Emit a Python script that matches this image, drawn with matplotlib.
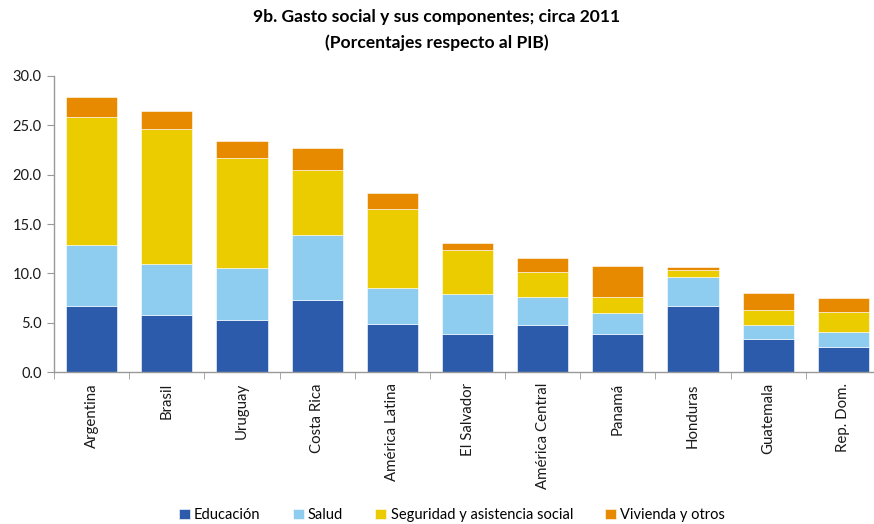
import matplotlib
matplotlib.use("Agg")
import matplotlib.pyplot as plt
import numpy as np

categories = ["Argentina", "Brasil", "Uruguay", "Costa Rica", "América Latina",
              "El Salvador", "América Central", "Panamá", "Honduras", "Guatemala", "Rep. Dom."]
educacion = [6.66, 5.78, 5.27, 7.30, 4.83, 3.85, 4.73, 3.85, 6.66, 3.34, 2.50]
salud = [6.21, 5.20, 5.27, 6.55, 3.65, 4.09, 2.91, 2.16, 2.97, 1.39, 1.59]
seguridad = [12.94, 13.68, 11.12, 6.62, 8.04, 4.39, 2.46, 1.63, 0.67, 1.52, 1.96]
vivienda = [2.03, 1.79, 1.72, 2.23, 1.59, 0.74, 1.49, 3.07, 0.31, 1.79, 1.45]
series_names = ["Educación", "Salud", "Seguridad y asistencia social", "Vivienda y otros"]
colors = ["#2B5BAA", "#8ECDF0", "#EACC00", "#E88A00"]
yticks = [0, 5, 10, 15, 20, 25, 30]

plt.rcParams['font.family'] = ['Lato', 'DejaVu Sans']

fig = plt.figure(figsize=(8.74, 5.24), dpi=100)
ax = fig.add_axes([54/874, 152/524, 827/874, 296/524])

x = np.arange(len(categories))
bottom = np.zeros(len(categories))
handles = []
for vals, name, c in zip([educacion, salud, seguridad, vivienda], series_names, colors):
    b = ax.bar(x, vals, 0.68, bottom=bottom, color=c, label=name,
               edgecolor="white", linewidth=0.4)
    bottom += np.array(vals)
    handles.append(b)

ax.set_xlim(-0.5, len(categories) - 0.5)
ax.set_ylim(0, 30)
ax.set_yticks(yticks)
ax.set_yticklabels([f"{v:.1f}" for v in yticks], fontsize=10.5, color="#1a1a1a")
ax.set_xticks(x)
ax.set_xticklabels(categories, rotation=90, fontsize=10.8, color="#1a1a1a")
ax.tick_params(axis="x", length=0, pad=8)
ax.set_xticks(np.arange(-0.5, len(categories)), minor=True)
ax.tick_params(axis="x", which="minor", length=5, direction="out", color="#999999")
ax.tick_params(axis="y", length=5, direction="out", color="#999999", pad=4)

for s in ["top", "right"]:
    ax.spines[s].set_visible(False)
for s in ["left", "bottom"]:
    ax.spines[s].set_color("#999999")
    ax.spines[s].set_linewidth(1.0)

fig.text(437/874, 1 - 17/524, "9b. Gasto social y sus componentes; circa 2011",
         ha="center", va="center", fontsize=12.6, fontweight="bold", color="#000000")
fig.text(437/874, 1 - 43/524, "(Porcentajes respecto al PIB)",
         ha="center", va="center", fontsize=12.6, fontweight="bold", color="#000000")

fig.legend(handles=handles, labels=series_names, loc="center", ncol=4,
           bbox_to_anchor=(452/874, 1 - 515/524), frameon=False, fontsize=10.5,
           handlelength=0.75, handleheight=0.75, handletextpad=0.3, columnspacing=2.2)

fig.savefig("out.png", dpi=100)
